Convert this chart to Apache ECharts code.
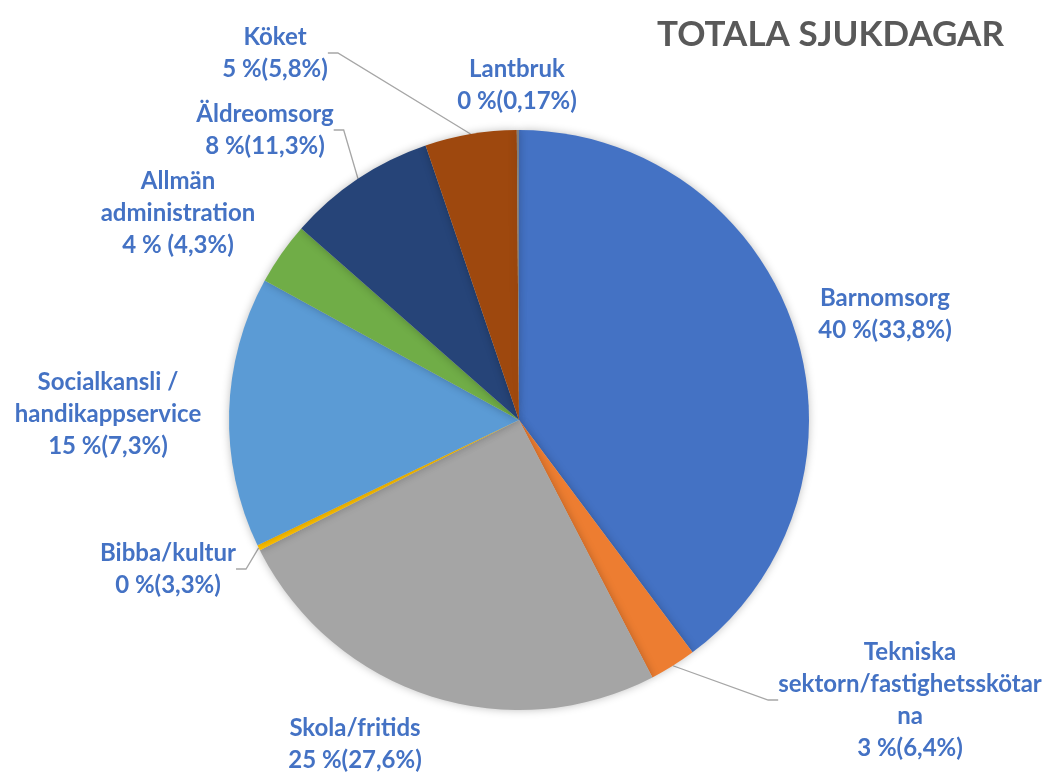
<!DOCTYPE html>
<html>
<head>
<meta charset="utf-8">
<script src="https://cdn.jsdelivr.net/npm/echarts@6/dist/echarts.min.js"></script>
<style>
html,body{margin:0;padding:0;background:#fff;}
#chart{width:1049px;height:773px;}
</style>
</head>
<body>
<div id="chart"></div>
<script>
var categories = ['Barnomsorg', 'Tekniska\nsektorn/fastighetsskötar\nna', 'Skola/fritids', 'Bibba/kultur', 'Socialkansli /\nhandikappservice', 'Allmän\nadministration', 'Äldreomsorg', 'Köket', 'Lantbruk'];
var values = [39.8, 2.6, 25.2, 0.3, 15.1, 3.5, 8.3, 5.1, 0.12];
var shareLabels = ['40 %', '3 %', '25 %', '0 %', '15 %', '4 % ', '8 %', '5 %', '0 %'];
var compareLabels = ['(33,8%)', '(6,4%)', '(27,6%)', '(3,3%)', '(7,3%)', '(4,3%)', '(11,3%)', '(5,8%)', '(0,17%)'];
var colors = ['#4472C4', '#ED7D31', '#A5A5A5', '#FFC000', '#5B9BD5', '#70AD47', '#264478', '#9E480E', '#7F7F7F'];

// label placement (layout only)
var labelPlacement = [[885, 314], [910, 700], [355, 744], [168, 569], [108, 414], [178, 213], [265, 130], [275, 53], [517, 85]];
var showLeader = [false, true, false, true, false, false, true, true, false];

var chart = echarts.init(document.getElementById('chart'));
var data = categories.map(function (c, i) {
  return { name: c, value: values[i], itemStyle: { color: colors[i] }, labelLine: { show: showLeader[i] } };
});
chart.setOption({
  animation: false,
  title: {
    text: 'TOTALA SJUKDAGAR',
    left: 652, top: 12,
    textStyle: { fontFamily: 'Lato', fontWeight: 'bold', fontSize: 35, color: '#595959' }
  },
  series: [{
    type: 'pie',
    center: [519, 420],
    radius: 290,
    startAngle: 90,
    clockwise: true,
    avoidLabelOverlap: false,
    itemStyle: { borderWidth: 0, shadowBlur: 8, shadowColor: 'rgba(0,0,0,0.25)' },
    label: {
      show: true,
      position: 'outside',
      fontFamily: 'Lato',
      fontWeight: 'bold',
      fontSize: 24,
      lineHeight: 32,
      color: '#4472C4',
      align: 'center',
      formatter: function (p) {
        return p.name + '\n' + shareLabels[p.dataIndex] + compareLabels[p.dataIndex];
      }
    },
    labelLine: { show: true, length: 20, length2: 10, lineStyle: { color: '#A6A6A6', width: 1.3 } },
    labelLayout: function (params) {
      var p = labelPlacement[params.dataIndex];
      return { x: p[0], y: p[1], align: 'center', verticalAlign: 'middle' };
    },
    data: data
  }]
});
</script>
</body>
</html>
